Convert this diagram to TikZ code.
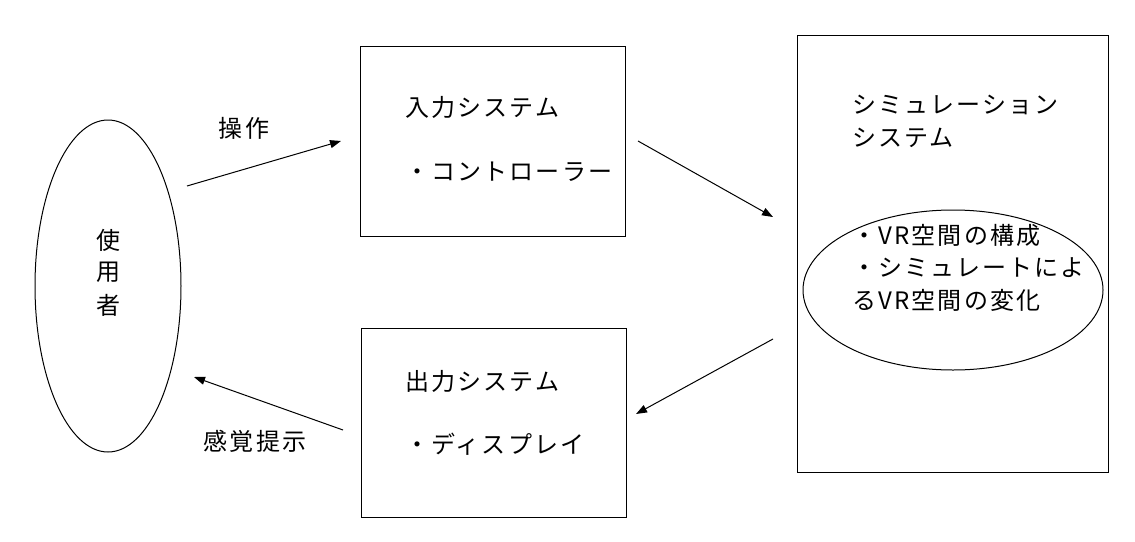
\documentclass[tikz,border=0pt]{standalone}
\usepackage{fontspec}
\setmainfont{Noto Sans CJK JP}
\newfontfamily\jpwide[LetterSpace=9]{Noto Sans CJK JP}
\usetikzlibrary{arrows.meta,shapes.geometric}
\tikzset{
  px/.style={x=1pt,y=-1pt},
  boxnode/.style={draw,line width=1pt,rectangle,inner sep=0pt},
  ovalnode/.style={draw,line width=1pt,ellipse,inner sep=0pt},
  lbl/.style={anchor=west,inner sep=0pt,font=\jpwide\fontsize{24}{28}\selectfont},
  clbl/.style={inner sep=0pt,font=\jpwide\fontsize{24}{28}\selectfont},
  arr/.style={line width=1pt,-{Triangle[length=11pt,width=8pt]}}
}
\begin{document}
\begin{tikzpicture}[px]
\useasboundingbox (0,0) rectangle (1135,541);
% user ellipse
\node[ovalnode,minimum width=146pt,minimum height=332pt] (user) at (108,286) {};
\node[clbl] (u1) at (108,240) {使};
\node[clbl] (u2) at (108,272) {用};
\node[clbl] (u3) at (108,305) {者};
% input box
\node[boxnode,minimum width=265pt,minimum height=190pt] (inbox) at (492.5,141) {};
\node[lbl] (in1) at (405,107) {入力システム};
\node[lbl] (in2) at (405,172) {・コントローラー};
% output box
\node[boxnode,minimum width=265pt,minimum height=189pt] (outbox) at (493.5,422.5) {};
\node[lbl] (out1) at (405,381) {出力システム};
\node[lbl] (out2) at (405,444) {・ディスプレイ};
% simulation box
\node[boxnode,minimum width=311pt,minimum height=437pt] (simbox) at (952.5,253.5) {};
\node[lbl] (s1) at (852,105) {シミュレーション};
\node[lbl] (s2) at (852,138) {システム};
\node[ovalnode,minimum width=300pt,minimum height=160pt] (inner) at (953,290) {};
\node[lbl] (e1) at (852,235) {・VR空間の構成};
\node[lbl] (e2) at (852,268) {・シミュレートによ};
\node[lbl] (e3) at (852,300) {るVR空間の変化};
% arrows
\coordinate (a1s) at (187,186);
\coordinate (a1e) at (341,141);
\coordinate (a2s) at (638,141);
\coordinate (a2e) at (773,217);
\coordinate (a3s) at (773,339);
\coordinate (a3e) at (636,414);
\coordinate (a4s) at (343,430);
\coordinate (a4e) at (194,377);
\draw[arr] (a1s) -- (a1e);
\draw[arr] (a2s) -- (a2e);
\draw[arr] (a3s) -- (a3e);
\draw[arr] (a4s) -- (a4e);
\node[clbl] (op) at (244,128) {操作};
\node[clbl] (fb) at (255,441) {感覚提示};
\end{tikzpicture}
\end{document}
